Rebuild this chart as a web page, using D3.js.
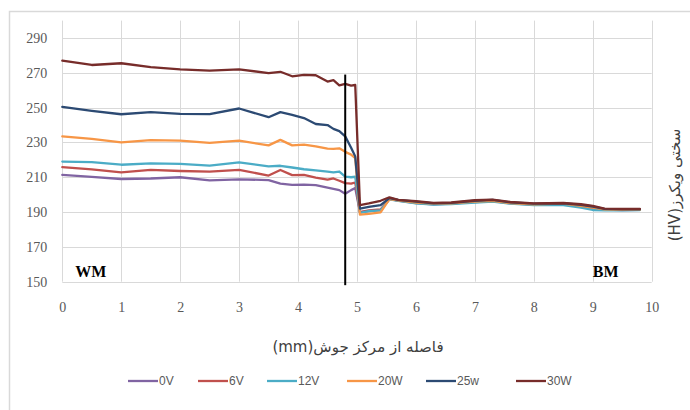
<!DOCTYPE html>
<html>
<head>
<meta charset="utf-8">
<script src="https://cdn.jsdelivr.net/npm/d3@7/dist/d3.min.js"></script>
<style>
  html, body { margin: 0; padding: 0; background: #fff; }
  svg { display: block; }
</style>
</head>
<body>
<svg id="chart" width="690" height="410"></svg>
<script>
// Distance from the weld centre (mm)
const distance = [0, 0.5, 1, 1.5, 2, 2.5, 3, 3.5, 3.7, 3.9, 4.1, 4.3, 4.5, 4.6, 4.7, 4.8, 4.9, 4.97,
  5.05, 5.2, 5.4, 5.55, 5.7, 6.0, 6.3, 6.6, 7.0, 7.3, 7.6, 8.0, 8.5, 8.8, 9.0, 9.2, 9.5, 9.8];

// Vickers hardness (HV) for each condition
const hv0V = [211.4, 210.2, 209, 209.3, 210, 208.2, 208.8, 208.4, 206.3, 205.6, 205.8, 205.5, 204, 203.3, 202.6, 200.5, 202.6, 203.8,
  190, 190.6, 191.2, 197.4, 196.6, 195.2, 194.5, 194.8, 195.8, 196.3, 195, 194.3, 194.5, 193.3, 192.4, 191.4, 191.2, 191.3];
const hv6V = [215.8, 214.5, 212.8, 214.2, 213.6, 213.2, 214.2, 211, 214.2, 211.2, 211.3, 209.8, 208.6, 209.3, 208, 206.6, 206.3, 207,
  190, 191, 191.5, 197.5, 196.7, 195.4, 194.7, 195, 196, 196.6, 195.3, 194.6, 194.8, 193.6, 192.6, 191.6, 191.4, 191.4];
const hv12V = [219, 218.7, 217.2, 218, 217.7, 216.7, 218.6, 216.3, 216.6, 215.6, 214.6, 214, 213.2, 212.8, 213.3, 210.4, 210, 210.3,
  189.5, 190.5, 191, 197.3, 196.5, 195, 194.3, 194.6, 195.5, 196, 194.8, 194, 194, 192.5, 191.2, 191, 191, 191.2];
const hv20W = [233.5, 232, 230, 231.3, 231, 229.7, 231, 228.3, 231.5, 228.3, 228.7, 227.8, 226.5, 226.3, 226.6, 224.6, 223, 221,
  188.5, 189, 189.8, 197.5, 196.8, 195.5, 194.8, 195, 196, 196.5, 195.2, 194.5, 194.8, 193.5, 192.6, 191.5, 191.3, 191.4];
const hv25W = [250.4, 248.2, 246.2, 247.4, 246.4, 246.3, 249.5, 244.5, 247.4, 245.8, 244, 240.6, 240, 237.8, 236.5, 233.5, 227, 222,
  192, 193, 194, 198, 197, 196, 195, 195.3, 196.5, 197, 195.6, 194.8, 195, 194.2, 193.2, 191.8, 191.6, 191.6];
const hv30W = [277, 274.5, 275.5, 273.3, 272, 271.3, 272, 269.8, 270.6, 268, 268.8, 268.6, 265, 265.8, 262.8, 263.6, 262.6, 263,
  194, 195, 196.5, 198.5, 197, 196.3, 195.3, 195.5, 196.8, 197.2, 195.8, 195, 195.2, 194.5, 193.5, 192, 191.8, 191.8];

const seriesNames = ["0V", "6V", "12V", "20W", "25w", "30W"];
const seriesColors = ["#8064a2", "#c0504d", "#4bacc6", "#f79646", "#2c4a73", "#772c2a"];
const seriesValues = [hv0V, hv6V, hv12V, hv20W, hv25W, hv30W];

const xTicks = [0, 1, 2, 3, 4, 5, 6, 7, 8, 9, 10];
const yTicks = [150, 170, 190, 210, 230, 250, 270, 290];

// Fusion boundary marker: x position and vertical extent in HV
const boundaryX = 4.8;
const boundaryHV = [148, 269];

const xTitle = "فاصله از مرکز جوش(mm)";
const yTitle = "سختی ویکرز(HV)";
const zoneLabels = [{ text: "WM", x: 0.22, hv: 152.5 }, { text: "BM", x: 9.0, hv: 152.5 }];

const svg = d3.select("#chart");
const W = 690, H = 410;

// chart frame
svg.append("rect")
  .attr("x", 9.5).attr("y", 11.5)
  .attr("width", W + 10).attr("height", H + 10)
  .attr("fill", "none").attr("stroke", "#d9d9d9").attr("stroke-width", 1.5);

const plot = { left: 62.3, right: 651.7, top: 20.6, bottom: 281.7 };

const x = d3.scaleLinear().domain([0, 10]).range([plot.left, plot.right]);
const y = d3.scaleLinear().domain([150, 300]).range([plot.bottom, plot.top]);

// gridlines
const grid = svg.append("g").attr("stroke", "#d9d9d9").attr("stroke-width", 1);
grid.selectAll("line.h").data(yTicks).join("line")
  .attr("x1", plot.left).attr("x2", plot.right)
  .attr("y1", d => Math.round(y(d)) + 0.5).attr("y2", d => Math.round(y(d)) + 0.5);
grid.selectAll("line.v").data(xTicks).join("line")
  .attr("y1", plot.top).attr("y2", plot.bottom)
  .attr("x1", d => Math.round(x(d)) + 0.5).attr("x2", d => Math.round(x(d)) + 0.5);

// axes (labels only, Excel style)
const tickFont = "'Liberation Serif', 'DejaVu Serif', serif";
const yAxis = svg.append("g")
  .attr("transform", `translate(${plot.left},0)`)
  .call(d3.axisLeft(y).tickValues(yTicks).tickSize(0).tickPadding(15));
yAxis.select(".domain").remove();
yAxis.selectAll("text").attr("fill", "#595959").style("font-family", tickFont).style("font-size", "14px");

const xAxis = svg.append("g")
  .attr("transform", `translate(0,${plot.bottom})`)
  .call(d3.axisBottom(x).tickValues(xTicks).tickSize(0).tickPadding(20));
xAxis.select(".domain").remove();
xAxis.selectAll("text").attr("fill", "#595959").style("font-family", tickFont).style("font-size", "14px");

// series lines
const line = d3.line()
  .x((d, i) => x(distance[i]))
  .y(d => y(d));

svg.append("g").selectAll("path").data(seriesValues).join("path")
  .attr("d", d => line(d))
  .attr("fill", "none")
  .attr("stroke", (d, i) => seriesColors[i])
  .attr("stroke-width", 2.3)
  .attr("stroke-linejoin", "round")
  .attr("stroke-linecap", "round");

// fusion boundary
svg.append("line")
  .attr("x1", x(boundaryX)).attr("x2", x(boundaryX))
  .attr("y1", y(boundaryHV[0])).attr("y2", y(boundaryHV[1]))
  .attr("stroke", "#000").attr("stroke-width", 2);

// zone labels
svg.append("g").selectAll("text").data(zoneLabels).join("text")
  .attr("x", d => x(d.x)).attr("y", d => y(d.hv))
  .attr("font-family", tickFont).attr("font-weight", "bold")
  .attr("font-size", 16).attr("fill", "#000")
  .text(d => d.text);

// axis titles
svg.append("text")
  .attr("x", 358).attr("y", 352)
  .attr("text-anchor", "middle")
  .attr("direction", "rtl")
  .attr("font-family", "'DejaVu Sans', sans-serif")
  .attr("font-size", 15).attr("fill", "#404040")
  .text(xTitle);

svg.append("text")
  .attr("transform", "translate(680,185) rotate(-90)")
  .attr("text-anchor", "middle")
  .attr("direction", "rtl")
  .attr("font-family", "'DejaVu Sans', sans-serif")
  .attr("font-size", 15).attr("fill", "#404040")
  .text(yTitle);

// legend
const legendX = [128, 198, 267, 347, 426, 516];
const legend = svg.append("g").attr("transform", "translate(0,381)");
const items = legend.selectAll("g").data(seriesNames).join("g")
  .attr("transform", (d, i) => `translate(${legendX[i]},0)`);
items.append("line")
  .attr("x1", 0).attr("x2", 30).attr("y1", 0).attr("y2", 0)
  .attr("stroke", (d, i) => seriesColors[i]).attr("stroke-width", 2.3);
items.append("text")
  .attr("x", 31).attr("y", 4)
  .attr("font-family", "'Liberation Sans', 'DejaVu Sans', sans-serif")
  .attr("font-size", 12).attr("fill", "#595959")
  .text(d => d);
</script>
</body>
</html>
